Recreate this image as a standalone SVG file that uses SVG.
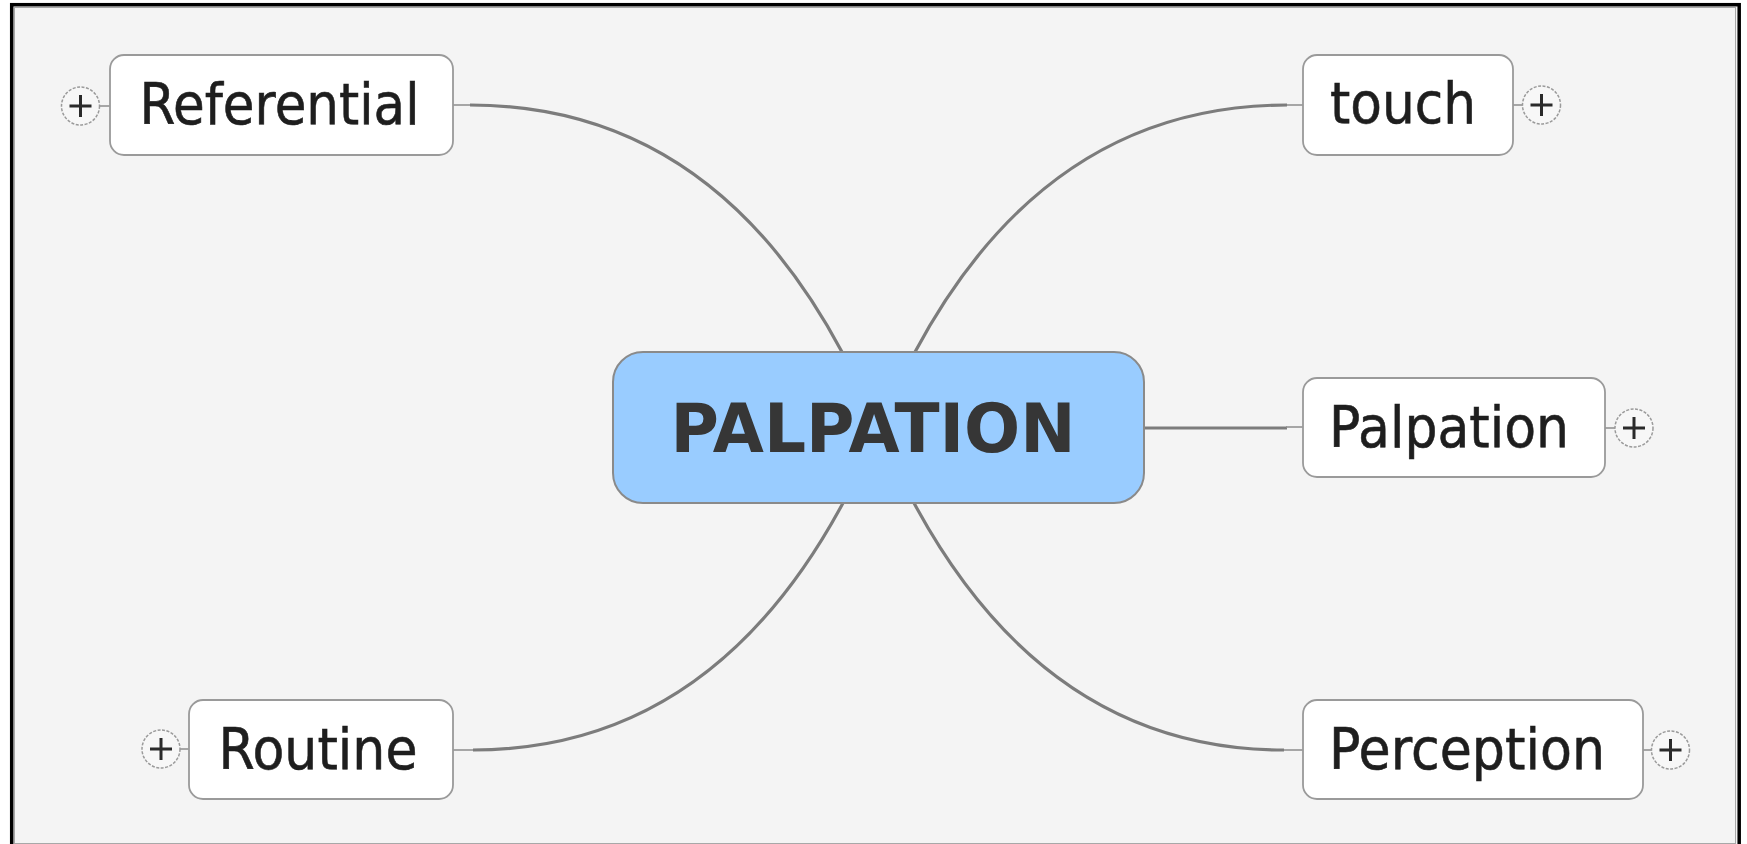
<svg xmlns="http://www.w3.org/2000/svg" width="1747" height="844" viewBox="0 0 1747 844">
  <defs>
    <style>
      .box { fill: #ffffff; stroke: #9a9a9a; stroke-width: 1.8; }
      .label { font-family: "DejaVu Sans", "Liberation Sans", sans-serif; font-size: 57px; fill: #1e1e1e; stroke: #1e1e1e; stroke-width: 0.6; text-anchor: middle; }
      .central-box { fill: #99ccff; stroke: #8a8a8a; stroke-width: 2; }
      .central-label { font-family: "DejaVu Sans", "Liberation Sans", sans-serif; font-weight: bold; font-size: 67px; fill: #363636; text-anchor: middle; }
      .curve { fill: none; stroke: #7c7c7c; stroke-width: 3.2; }
      .stub { fill: none; stroke: #8c8c8c; stroke-width: 1.5; }
      .exp-circle { fill: #f7f7f7; stroke: #9a9a9a; stroke-width: 1.5; stroke-dasharray: 3 1.5; }
      .exp-plus { stroke: #2a2a2a; stroke-width: 3; fill: none; }
    </style>
    <g id="plus-icon">
      <circle class="exp-circle" cx="0" cy="0" r="19"/>
      <path class="exp-plus" d="M -11 0 H 11 M 0 -11 V 11"/>
    </g>
  </defs>

  <rect x="0" y="0" width="1747" height="844" fill="#ffffff"/>
  <rect x="11.7" y="4.7" width="1727.5" height="860" fill="#f4f4f4" stroke="#000000" stroke-width="3.5"/>
  <rect x="14.5" y="7.5" width="1721" height="836" fill="none" stroke="#a8a8a8" stroke-width="1"/>

  <g id="connectors">
    <path class="stub" d="M 453 105 H 471"/>
    <path class="curve" d="M 470 105 Q 710 105 842 352 L 850 370"/>
    <path class="stub" d="M 1303 105 H 1286"/>
    <path class="curve" d="M 1287 105 Q 1047 105 915 352 L 907 370"/>
    <path class="stub" d="M 453 750 H 474"/>
    <path class="curve" d="M 473 750 Q 710 750 843 503 L 850 490"/>
    <path class="stub" d="M 1303 750 H 1283"/>
    <path class="curve" d="M 1284 750 Q 1047 750 914 503 L 907 490"/>
    <path class="curve" d="M 1130 428 H 1287"/>
    <path class="stub" d="M 1286 427 H 1303"/>
    <path class="stub" d="M 100 106 H 110"/>
    <path class="stub" d="M 1513 105 H 1523"/>
    <path class="stub" d="M 1605 428 H 1615"/>
    <path class="stub" d="M 180 749 H 189"/>
    <path class="stub" d="M 1643 750 H 1652"/>
  </g>

  <g id="node-central">
    <rect class="central-box" x="613" y="352" width="531" height="151" rx="30" ry="30"/>
    <text class="central-label" x="873" y="452" textLength="405" lengthAdjust="spacingAndGlyphs">PALPATION</text>
  </g>

  <g id="node-referential">
    <rect class="box" x="110" y="55" width="343" height="100" rx="14" ry="14"/>
    <text class="label" x="279.5" y="124" textLength="280" lengthAdjust="spacingAndGlyphs">Referential</text>
    <use href="#plus-icon" x="80.5" y="106"/>
  </g>

  <g id="node-touch">
    <rect class="box" x="1303" y="55" width="210" height="100" rx="14" ry="14"/>
    <text class="label" x="1403" y="123" textLength="146" lengthAdjust="spacingAndGlyphs">touch</text>
    <use href="#plus-icon" x="1541.5" y="105"/>
  </g>

  <g id="node-palpation">
    <rect class="box" x="1303" y="378" width="302" height="99" rx="14" ry="14"/>
    <text class="label" x="1449" y="447" textLength="240" lengthAdjust="spacingAndGlyphs">Palpation</text>
    <use href="#plus-icon" x="1634" y="428"/>
  </g>

  <g id="node-routine">
    <rect class="box" x="189" y="700" width="264" height="99" rx="14" ry="14"/>
    <text class="label" x="318" y="769" textLength="199" lengthAdjust="spacingAndGlyphs">Routine</text>
    <use href="#plus-icon" x="161" y="749"/>
  </g>

  <g id="node-perception">
    <rect class="box" x="1303" y="700" width="340" height="99" rx="14" ry="14"/>
    <text class="label" x="1467" y="769" textLength="276" lengthAdjust="spacingAndGlyphs">Perception</text>
    <use href="#plus-icon" x="1670.5" y="750"/>
  </g>
</svg>
